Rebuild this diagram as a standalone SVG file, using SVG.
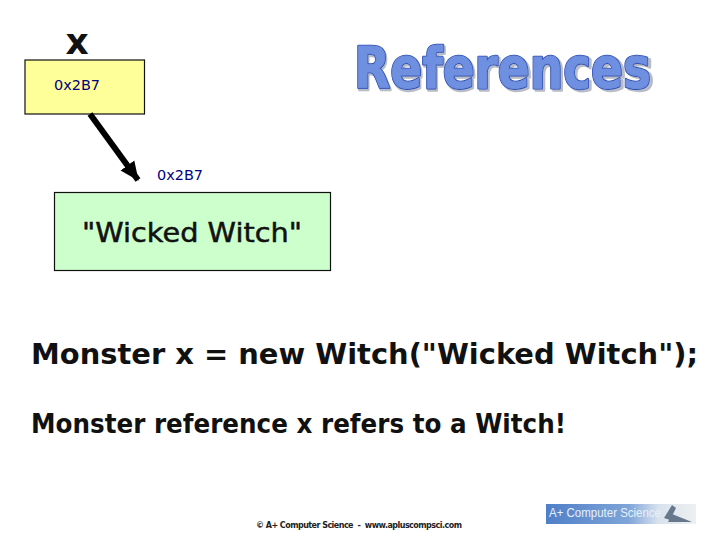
<svg xmlns="http://www.w3.org/2000/svg" width="720" height="540" viewBox="0 0 720 540">
<style>
text{font-family:"DejaVu Sans",Verdana,sans-serif}
.addr{font-size:14px;fill:#000080}
.code{font-size:29px;font-weight:bold;fill:#111}
.box{stroke:#111;stroke-width:1.2}
.title{font-size:57px;font-weight:bold;stroke-linejoin:round}
</style>
<defs><marker id="arr" markerUnits="userSpaceOnUse" markerWidth="20" markerHeight="20" refX="18" refY="10" orient="auto"><path d="M0 1.500L19 10L0 18.500Z" fill="#000"/></marker>
<linearGradient id="lg"><stop offset="0" stop-color="#4f7fc8"/><stop offset=".55" stop-color="#7fa5d8"/><stop offset=".75" stop-color="#d8e2ee"/><stop offset="1" stop-color="#eef0f0"/></linearGradient></defs>
<rect width="720" height="540" fill="#fff"/>
<g id="title">
<text class="title" x="355" y="89.500" textLength="299" lengthAdjust="spacingAndGlyphs" fill="#b8bcc8" stroke="#b8bcc8" stroke-width="3">References</text>
<text class="title" x="354" y="88" textLength="297" lengthAdjust="spacingAndGlyphs" fill="#6f8fe0" stroke="#2f4fb0" stroke-width="2.600">References</text>
<text class="title" x="354" y="88" textLength="297" lengthAdjust="spacingAndGlyphs" fill="#6f8fe0" stroke="#6f8fe0" stroke-width="0.800">References</text>
</g>
<g id="x-label"><text x="77" y="53.500" font-size="36" font-weight="bold" text-anchor="middle" fill="#111">x</text></g>
<g id="node-x"><rect class="box" x="25" y="60" width="119.500" height="54" fill="#ffff99"/><text class="addr" x="54" y="90" textLength="46" lengthAdjust="spacingAndGlyphs">0x2B7</text></g>
<g id="connectors"><line x1="90" y1="114" x2="138" y2="180" stroke="#000" stroke-width="6" marker-end="url(#arr)"/></g>
<g id="node-witch"><text class="addr" x="157" y="180" textLength="46" lengthAdjust="spacingAndGlyphs">0x2B7</text><rect class="box" x="54.500" y="192.500" width="276" height="78" fill="#ccffcc"/><text x="82" y="242" font-size="26.500" fill="#111" stroke="#111" stroke-width="0.500" textLength="220" lengthAdjust="spacingAndGlyphs">"Wicked Witch"</text></g>
<g id="code"><text class="code" x="31" y="364" textLength="667" lengthAdjust="spacingAndGlyphs">Monster x = new Witch("Wicked Witch");</text>
<text x="31" y="433" font-size="26.500" font-weight="bold" fill="#111" textLength="535" lengthAdjust="spacingAndGlyphs">Monster reference x refers to a Witch!</text></g>
<g id="footer"><text x="256" y="528" font-size="8" font-weight="bold" fill="#222" textLength="206" lengthAdjust="spacing" xml:space="preserve">© A+ Computer Science  -  www.apluscompsci.com</text></g>
<g id="logo">
<rect x="546" y="504" width="150" height="20" fill="url(#lg)"/>
<path d="M664 518L672 505L676 508L670 520ZM672 514L692 522H668Z" fill="#68788c"/>
<text x="549" y="517" font-size="12" fill="#e8f0fa" textLength="112" lengthAdjust="spacingAndGlyphs" style="font-family:'Liberation Sans',sans-serif">A+ Computer Science</text></g>
</svg>
